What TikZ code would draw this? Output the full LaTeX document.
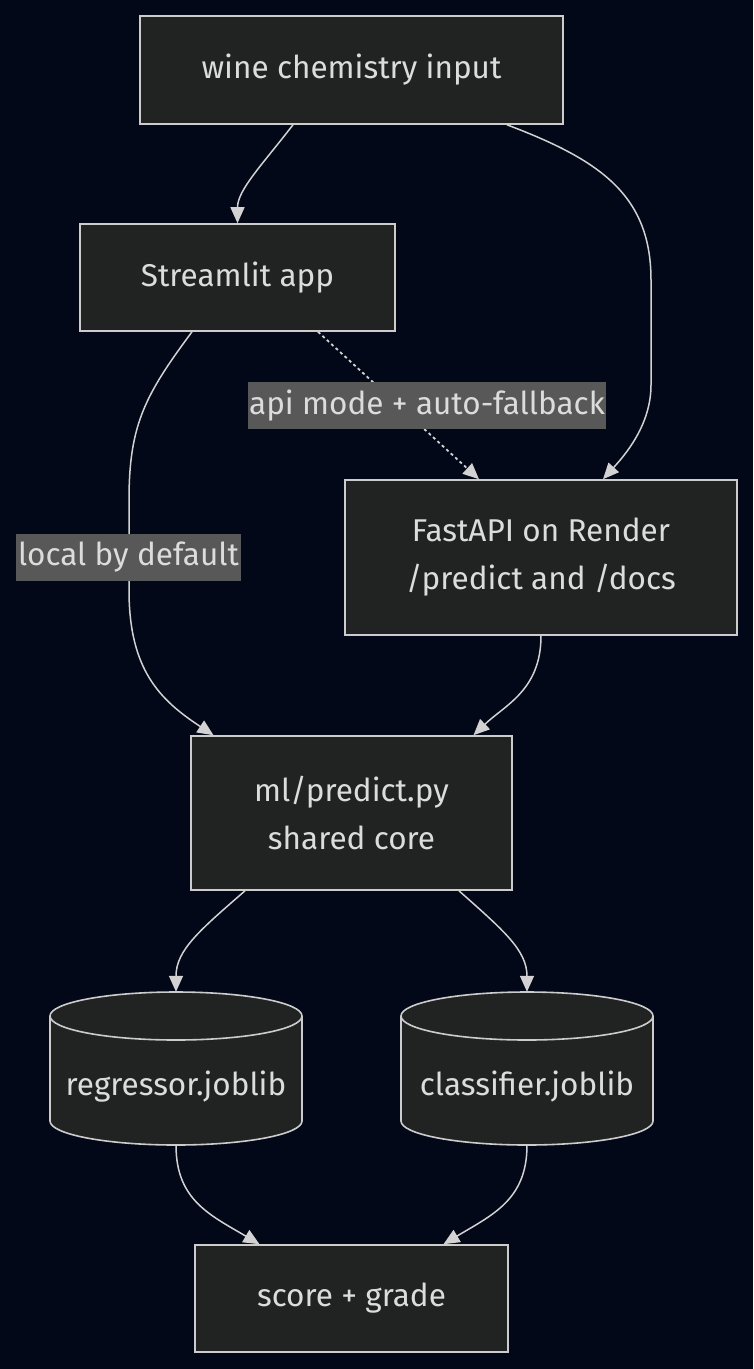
\documentclass[tikz,border=0pt]{standalone}
\usepackage{fontspec}
\setmainfont{Fira Sans}
\usetikzlibrary{arrows.meta}
\definecolor{bgc}{RGB}{2,8,23}
\definecolor{nodefill}{RGB}{33,34,34}
\definecolor{nodeline}{RGB}{204,204,204}
\definecolor{txt}{RGB}{220,220,220}
\definecolor{edgec}{RGB}{210,210,210}
\definecolor{lblbg}{RGB}{88,88,88}
\newcommand\cylbody[1]{%
  \fill[nodefill] (#1-126,1016) -- (#1-126,1121) arc[start angle=180,end angle=360,x radius=126pt,y radius=24pt]
     -- (#1+126,1016) arc[start angle=0,end angle=180,x radius=126pt,y radius=24pt] -- cycle;
  \draw[nodeline,line width=1.6pt] (#1-126,1016) -- (#1-126,1121) arc[start angle=180,end angle=360,x radius=126pt,y radius=24pt]
     -- (#1+126,1016) arc[start angle=0,end angle=360,x radius=126pt,y radius=24pt];}
\begin{document}
\begin{tikzpicture}[x=1pt,y=-1pt,
  box/.style={draw=nodeline,fill=nodefill,line width=1.6pt,text=txt,align=center,
    font=\fontsize{31.5}{48}\selectfont,inner sep=0pt},
  cylbox/.style={draw=none,minimum width=252pt,minimum height=153pt,inner sep=0pt},
  edge/.style={draw=edgec,line width=1.5pt,-{Triangle[width=14pt,length=16pt]}},
  lbl/.style={fill=lblbg,text=txt,font=\fontsize{31.5}{48}\selectfont,inner sep=0pt,
    minimum height=47pt}]
\fill[bgc] (0,0) rectangle (753,1369);
\useasboundingbox (0,0) rectangle (753,1369);

\node[box,minimum width=423pt,minimum height=108pt] (wine) at (351.5,70) {wine chemistry input};
\node[box,minimum width=315pt,minimum height=107pt] (st) at (237.5,277.5) {Streamlit app};
\node[box,minimum width=392pt,minimum height=155pt] (api) at (541,557.5) {FastAPI on Render\\/predict and /docs};
\node[box,minimum width=321pt,minimum height=154pt] (ml) at (351.5,813) {ml/predict.py\\shared core};
\cylbody{176}
\cylbody{527}
\node[cylbox,label={[text=txt,font=\fontsize{31.5}{48}\selectfont,yshift=-18pt]center:regressor.joblib}] (reg) at (176,1068.5) {};
\node[cylbox,label={[text=txt,font=\fontsize{31.5}{48}\selectfont,yshift=-18pt]center:classifier.joblib}] (cls) at (527,1068.5) {};
\node[box,minimum width=313pt,minimum height=107pt] (score) at (351.5,1298.5) {score + grade};

% edges
\draw[edge] ([xshift=-58.5pt]wine.south) .. controls (262,165) and (237.5,190) .. (st.north);
\draw[edge] ([xshift=155.5pt]wine.south) .. controls (600,160) and (651,195) .. (651,280) -- (651,385)
   .. controls (651,425) and (625,455) .. ([xshift=62pt]api.north);
\draw[edge,dash pattern=on 3pt off 3pt,line width=1.8pt] ([xshift=80.5pt]st.south) -- ([xshift=-62pt]api.north);
\draw[edge] ([xshift=-45.5pt]st.south) .. controls (145,395) and (129,425) .. (129,500) -- (129,590)
   .. controls (129,670) and (160,700) .. ([xshift=-138pt]ml.north);
\draw[edge] (api.south) .. controls (541,690) and (505,705) .. ([xshift=122pt]ml.north);
\draw[edge] ([xshift=-106.5pt]ml.south) .. controls (200,930) and (176,950) .. (reg.north);
\draw[edge] ([xshift=107.5pt]ml.south) .. controls (503,930) and (527,950) .. (cls.north);
\draw[edge] (reg.south) .. controls (176,1200) and (210,1215) .. ([xshift=-92pt]score.north);
\draw[edge] (cls.south) .. controls (527,1200) and (492,1215) .. ([xshift=92pt]score.north);

% edge labels
\node[lbl,minimum width=358pt] (l1) at (427,405.5) {api mode + auto-fallback};
\node[lbl,minimum width=225pt] (l2) at (128.5,557.5) {local by default};
\end{tikzpicture}
\end{document}
